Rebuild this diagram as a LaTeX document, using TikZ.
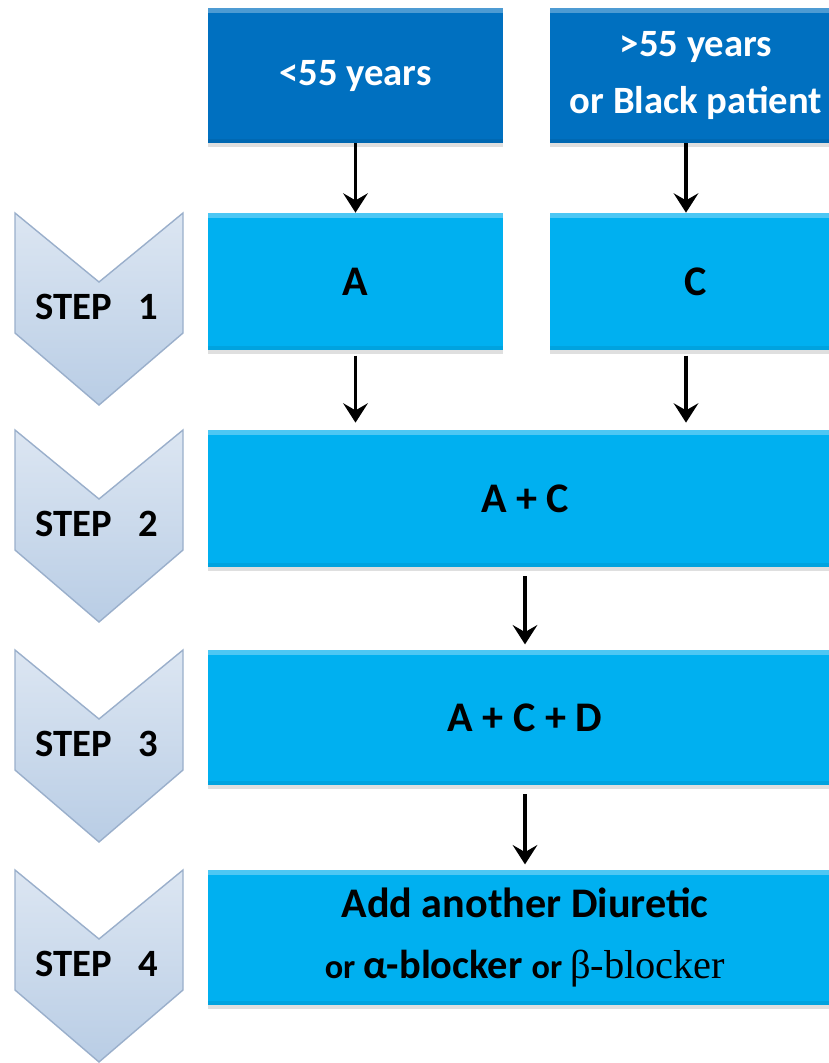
\documentclass[tikz,border=0pt]{standalone}
\usepackage{fontspec}
\setmainfont{Carlito}
\newfontfamily\greekserif{Liberation Serif}
\usetikzlibrary{arrows.meta,shadows}

\definecolor{agefill}{HTML}{0070C0}
\definecolor{drugfill}{HTML}{00B0F0}
\definecolor{chevtop}{HTML}{DCE6F2}
\definecolor{chevbot}{HTML}{B9CDE5}
\definecolor{chevline}{HTML}{9AAFCB}

\tikzset{
  bevel/.style={path picture={
      \fill[white,opacity=0.3] (path picture bounding box.north west) rectangle ([yshift=-3pt]path picture bounding box.north east);
      \fill[black,opacity=0.07] (path picture bounding box.south west) rectangle ([yshift=2pt]path picture bounding box.south east);}},
  agebox/.style={rectangle,fill=agefill,bevel,text=white,inner sep=0pt,align=center,
      drop shadow={shadow xshift=0pt,shadow yshift=-2pt,opacity=0.25},
      font=\bfseries\fontsize{22}{33}\selectfont},
  drugbox/.style={rectangle,fill=drugfill,bevel,text=black,inner sep=0pt,align=center,
      drop shadow={shadow xshift=0pt,shadow yshift=-2pt,opacity=0.25},
      font=\bfseries\fontsize{24}{35}\selectfont},
  chevron/.style={top color=chevtop,bottom color=chevbot,draw=chevline,line width=0.8pt},
  steplabel/.style={font=\bfseries\fontsize{22}{24}\selectfont},
  steparrow/.style={-{Stealth[length=11pt,width=14pt,inset=4pt]},line width=2.2pt},
}

\begin{document}
\begin{tikzpicture}[x=0.02cm,y=-0.02cm]
    \clip (0,0) rectangle (829,1063);
    % step chevrons
    \foreach \top/\n in {213/1,430/2,650/3,870/4} {
	\draw[chevron] (15,\top) -- (99,\top+69) -- (183,\top) -- (183,\top+120)
	    -- (99,\top+192) -- (15,\top+120) -- cycle;
	\node[steplabel] (step\n) at (97,\top+94) {STEP\hspace{0.7em}\n};
    }
    % patient groups
    \node[agebox,minimum width=5.9cm,minimum height=2.7cm] (young) at (355.5,75.5) {<55 years};
    \node[agebox,minimum width=5.84cm,minimum height=2.7cm] (older) at (696,75.5) {>55 years\\or Black patient};
    % drug boxes
    \node[drugbox,minimum width=5.9cm,minimum height=2.74cm] (drugA) at (355.5,281.5) {A};
    \node[drugbox,minimum width=5.84cm,minimum height=2.74cm] (drugC) at (696,281.5) {C};
    \node[drugbox,minimum width=12.68cm,minimum height=2.74cm] (ac) at (525,498.5) {A + C};
    \node[drugbox,minimum width=12.68cm,minimum height=2.7cm] (acd) at (525,717.5) {A + C + D};
    \node[drugbox,minimum width=12.68cm,minimum height=2.7cm] (addon) at (525,937.5)
	{Add another Diuretic\\
	 \fontsize{19.5}{35}\selectfont or \fontsize{23}{35}\selectfont α-blocker
	 \fontsize{19.5}{35}\selectfont or \fontsize{23}{35}\selectfont\greekserif\mdseries β-blocker};
    % arrows
    \draw[steparrow] (young.south) -- (drugA.north);
    \draw[steparrow] ([xshift=-0.2cm]older.south) -- ([xshift=-0.2cm]drugC.north);
    \draw[steparrow,shorten <=3pt,shorten >=4pt] (drugA.south) -- (drugA.south |- ac.north);
    \draw[steparrow,shorten <=3pt,shorten >=4pt] ([xshift=-0.2cm]drugC.south) -- ([xshift=-0.2cm]drugC.south |- ac.north);
    \draw[steparrow,shorten <=5pt,shorten >=3pt] (ac.south) -- (acd.north);
    \draw[steparrow,shorten <=5pt,shorten >=3pt] (acd.south) -- (addon.north);
\end{tikzpicture}
\end{document}
